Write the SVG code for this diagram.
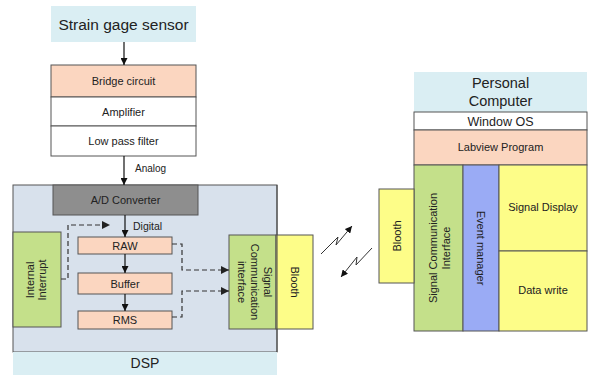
<svg xmlns="http://www.w3.org/2000/svg" width="589" height="376" viewBox="0 0 589 376">
<defs>
<marker id="ah" viewBox="0 0 10 10" refX="10" refY="5" markerWidth="7" markerHeight="7" markerUnits="userSpaceOnUse" orient="auto"><path d="M0,0 L10,5 L0,10 z" fill="#111"/></marker>
<marker id="ahd" viewBox="0 0 10 10" refX="10" refY="5" markerWidth="9" markerHeight="8" markerUnits="userSpaceOnUse" orient="auto"><path d="M0,0 L10,5 L0,10 z" fill="#222"/></marker>
<style>
text{font-family:"Liberation Sans",Arial,sans-serif;fill:#222;text-anchor:middle}
.s{font-size:11px}
.b{stroke:#555;stroke-width:1}
.peach{fill:#fbd6c0}
.green{fill:#c4e08a}
.yellow{fill:#fdfd88}
.cyan{fill:#daeef3}
.ln{stroke:#111;stroke-width:1.2;fill:none}
.dash{stroke:#333;stroke-width:1.2;fill:none;stroke-dasharray:5,3}
</style>
</defs>
<g id="sensor"><rect x="51" y="6" width="145" height="36" class="cyan"/><text x="123.5" y="29.5" style="font-size:15.5px">Strain gage sensor</text></g>
<g id="bridge"><rect x="51" y="65" width="145" height="32" class="peach b"/><text class="s" x="123.5" y="85">Bridge circuit</text></g>
<g id="amp"><rect x="51" y="97" width="145" height="29" fill="#fff" class="b"/><text class="s" x="123.5" y="115.5" fill="#444">Amplifier</text></g>
<g id="lpf"><rect x="51" y="126" width="145" height="30" fill="#fff" class="b"/><text class="s" x="123.5" y="145">Low pass filter</text></g>
<g id="dsp"><rect x="13" y="185" width="264" height="167" fill="#d8e1ec" class="b"/><rect x="13" y="352" width="264" height="23" class="cyan"/><text x="145" y="368" style="font-size:14px">DSP</text></g>
<g id="adc"><rect x="53" y="185" width="145" height="30" fill="#8e8e8e" class="b"/><text class="s" x="125.5" y="204">A/D Converter</text></g>
<g id="raw"><rect x="78" y="237" width="94" height="17" class="peach b"/><text class="s" x="125" y="249.5">RAW</text></g>
<g id="buffer"><rect x="78" y="273" width="94" height="21" class="peach b"/><text class="s" x="125" y="287.5">Buffer</text></g>
<g id="rms"><rect x="78" y="311" width="94" height="18" class="peach b"/><text class="s" x="125" y="324">RMS</text></g>
<g id="interrupt"><rect x="13" y="232" width="48" height="95" class="green b"/><text class="s" transform="translate(34,280) rotate(-90)"><tspan x="0" y="0">Internal</tspan><tspan x="0" y="12">Interrupt</tspan></text></g>
<g id="dsp-sci"><rect x="229" y="235" width="47" height="94" class="green b"/><text class="s" transform="translate(252.5,282) rotate(90)"><tspan x="0" y="-11">Signal</tspan><tspan x="0" y="2">Communication</tspan><tspan x="0" y="15">interface</tspan></text></g>
<g id="dsp-blooth"><rect x="276" y="235" width="37" height="94" class="yellow b"/><text class="s" transform="translate(294.5,282) rotate(90)" x="0" y="4">Blooth</text></g>
<line x1="277" y1="185" x2="277" y2="352" stroke="#444" stroke-width="1"/>
<g id="pc"><rect x="414" y="72" width="173" height="40" class="cyan"/><text x="500.5" y="88" style="font-size:14.5px">Personal</text><text x="500.5" y="106" style="font-size:14.5px">Computer</text></g>
<g id="winos"><rect x="414" y="112" width="173" height="18" fill="#fff" class="b"/><text x="500.5" y="125.5" style="font-size:12.5px">Window OS</text></g>
<g id="labview"><rect x="414" y="130" width="173" height="35" class="peach b"/><text class="s" x="500.5" y="151">Labview Program</text></g>
<g id="pc-sci"><rect x="414" y="165" width="49" height="166" class="green b"/><text class="s" transform="translate(438.5,248) rotate(-90)"><tspan x="0" y="-2">Signal Communication</tspan><tspan x="0" y="11">Interface</tspan></text></g>
<g id="event"><rect x="463" y="165" width="36" height="166" fill="#9aabf5" class="b"/><text class="s" transform="translate(481,248) rotate(90)" x="0" y="4">Event manager</text></g>
<g id="display"><rect x="499" y="165" width="88" height="86" class="yellow b"/><text class="s" x="543" y="211">Signal Display</text></g>
<g id="datawrite"><rect x="499" y="251" width="88" height="80" class="yellow b"/><text class="s" x="543" y="294">Data write</text></g>
<g id="pc-blooth"><rect x="379" y="189" width="35" height="94" class="yellow b"/><text class="s" transform="translate(396.5,236) rotate(-90)" x="0" y="4">Blooth</text></g>
<g id="connectors">
<line class="ln" x1="124" y1="42" x2="124" y2="65" marker-end="url(#ah)"/>
<line class="ln" x1="124" y1="156" x2="124" y2="185" marker-end="url(#ah)"/>
<text x="135" y="172" style="font-size:10px;text-anchor:start">Analog</text>
<line class="ln" x1="125" y1="215" x2="125" y2="237" marker-end="url(#ah)"/>
<text x="133" y="229.5" style="font-size:10.5px;text-anchor:start">Digital</text>
<line class="ln" x1="125" y1="254" x2="125" y2="273" marker-end="url(#ah)"/>
<line class="ln" x1="125" y1="294" x2="125" y2="311" marker-end="url(#ah)"/>
<path class="dash" d="M61,279 H68 V225 H110" marker-end="url(#ahd)"/>
<path class="dash" d="M172,244 H182 V270 H229" marker-end="url(#ahd)"/>
<path class="dash" d="M172,317 H182 V291 H229" marker-end="url(#ahd)"/>
<path d="M321,254 L338,237 L336,245 L352,226" stroke="#333" stroke-width="1" fill="none" marker-end="url(#ah)"/>
<path d="M372,248 L356,265 L357,257 L341,277" stroke="#333" stroke-width="1" fill="none" marker-end="url(#ah)"/>
</g>
</svg>
